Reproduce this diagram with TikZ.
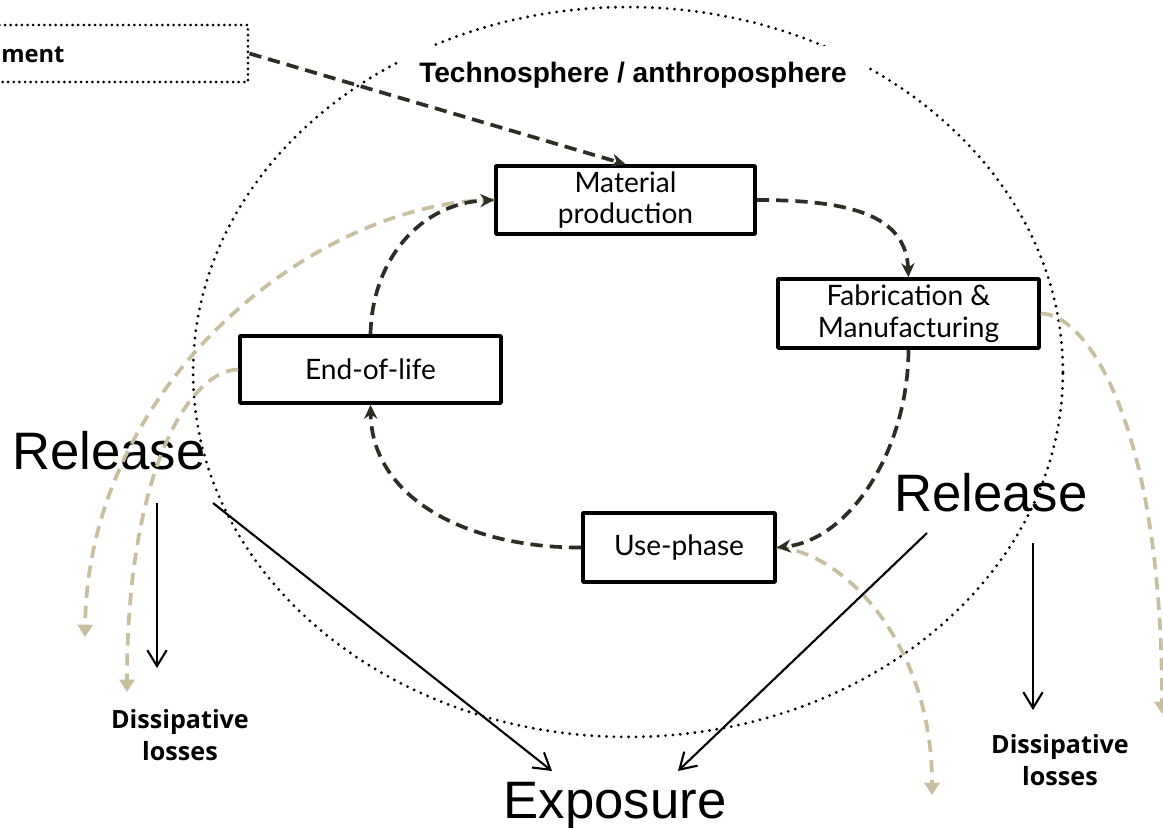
\documentclass[tikz,border=0pt]{standalone}
\usepackage{fontspec}
\setmainfont{Liberation Sans}
\newfontfamily\boxfont{Lato}
\newfontfamily\lossfont{Open Sans}
\usetikzlibrary{arrows.meta}
\definecolor{cycledark}{HTML}{2E2D24}
\definecolor{releasetan}{HTML}{C7BF9F}

\begin{document}
\begin{tikzpicture}[
  x={(0.02cm,0cm)},
  y={(0cm,-0.02cm)},
  line join=round,
  stage/.style={draw=black,line width=2pt,fill=white,inner sep=0pt,align=center,
    font=\boxfont\fontsize{16}{18}\selectfont},
  sphere/.style={draw=black,line width=1.8pt,dash pattern=on 0pt off 4.2pt,line cap=round},
  envbox/.style={draw=black,line width=1.7pt,dash pattern=on 0pt off 3.2pt,line cap=round,inner sep=0pt},
  cycleflow/.style={draw=cycledark,line width=2.1pt,dash pattern=on 7pt off 4pt,
    -{Stealth[length=8pt,width=7.5pt]}},
  loss/.style={draw=releasetan,line width=2.1pt,dash pattern=on 7pt off 4.5pt,
    -{Triangle[length=7pt,width=8.5pt]}},
  release/.style={draw=black,line width=1.2pt,-{Straight Barb[length=9pt,width=11pt]}},
  big/.style={font=\fontsize{30}{36}\selectfont,inner sep=0pt},
  losstext/.style={font=\lossfont\bfseries\fontsize{14.3}{18}\selectfont,align=center,inner sep=0pt}
]
  % Page frame in pixel units; everything past it is cut off.
  \path[use as bounding box,clip] (0,0) rectangle (1163,828);

  % Technosphere boundary and its label, which blanks out the top of the ring.
  \draw[sphere] (628,372) ellipse [x radius=8.7cm,y radius=7.3cm];
  \node[fill=white,minimum width=9.4cm,minimum height=1.16cm,
    font=\bfseries\fontsize{16}{19}\selectfont] (techno) at (633,75) {Technosphere / anthroposphere};

  % Environment box, mostly outside the frame.
  \node[envbox,minimum width=5.36cm,minimum height=1.14cm] (env) at (114,53.5) {};
  \node[losstext,font=\lossfont\bfseries\fontsize{13.5}{18}\selectfont,anchor=west] (envtext) at (1,55) {ment};

  % Life-cycle stages.
  \node[stage,minimum width=5.18cm,minimum height=1.36cm] (mat) at (625.5,200) {Material\\production};
  \node[stage,minimum width=5.22cm,minimum height=1.38cm] (fab) at (908.5,313.5) {Fabrication \&\\Manufacturing};
  \node[stage,minimum width=5.22cm,minimum height=1.34cm] (eol) at (370.5,369.5) {End-of-life};
  \node[stage,minimum width=3.84cm,minimum height=1.38cm] (use) at (679,547.5) {Use-phase};

  % Release, exposure and loss labels.
  \node[big] (relL) at (109,451) {Release};
  \node[big] (relR) at (991,493) {Release};
  \node[big,anchor=base] (expo) at (615,818) {Exposure};
  \node[losstext] (lossL) at (180,735) {Dissipative\\losses};
  \node[losstext] (lossR) at (1060,760) {Dissipative\\losses};

  % Free ends of the release arrows.
  \coordinate (tipA) at (85,637);
  \coordinate (tipB) at (127,692);
  \coordinate (tipC) at (1162,714);
  \coordinate (tipD) at (932,795);
  \coordinate (relLa) at (157,503);
  \coordinate (lossLa) at (157,668);
  \coordinate (relLb) at (213,503);
  \coordinate (expoL) at (552,771);
  \coordinate (relRa) at (927,533);
  \coordinate (expoR) at (678,771);
  \coordinate (relRb) at (1033,543);
  \coordinate (lossRa) at (1033,710);

  % Tan dashed releases leaving the stages.
  \draw[loss] (mat.west) .. controls (320,200) and (88,380) .. (tipA);
  \draw[loss] (eol.west) .. controls (190,370) and (127,470) .. (tipB);
  \draw[loss] (fab.east) .. controls (1085,313) and (1162,420) .. (tipC);
  \draw[loss] (use.east) .. controls (840,550) and (932,640) .. (tipD);

  % Dark dashed material cycle.
  \draw[cycleflow] (env.east) -- (mat.north);
  \draw[cycleflow] (mat.east) .. controls (850,200) and (906,215) .. (fab.north);
  \draw[cycleflow] (fab.south) .. controls (908,450) and (850,540) .. (use.east);
  \draw[cycleflow] (use.west) .. controls (470,548) and (372,500) .. (eol.south);
  \draw[cycleflow] (eol.north) .. controls (372,260) and (420,203) .. (mat.west);

  % Thin release arrows.
  \foreach \s/\t in {relLa/lossLa,relLb/expoL,relRa/expoR,relRb/lossRa} {
    \draw[release] (\s) -- (\t);
  }
\end{tikzpicture}
\end{document}
